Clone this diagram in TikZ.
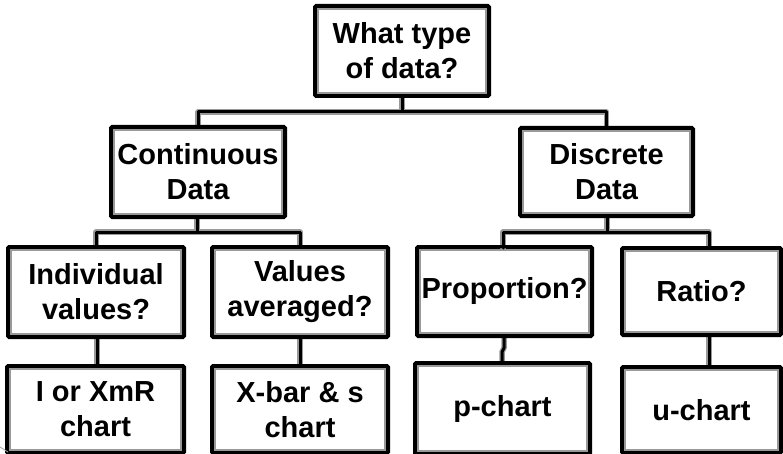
\documentclass[tikz,border=0pt]{standalone}
\usepackage{fontspec}
\setmainfont{Liberation Sans}
\begin{document}
\begin{tikzpicture}[x=1pt,y=-1pt,
  qbox/.style={draw=black, line width=3pt, rounded corners=1.5pt, fill=white,
    inner sep=0pt, align=center, font=\fontsize{29}{35}\selectfont\bfseries},
  inner/.style={draw=gray!80, line width=1.4pt},
  link/.style={draw=black, line width=3pt, line join=round},
  linkshade/.style={draw=gray!80, line width=5.5pt, line join=round}]
\useasboundingbox (0,0) rectangle (783,454);

% nodes
\node[qbox, minimum width=172pt, minimum height=88pt] (top) at (402,51) {What type\\of data?};
\node[qbox, minimum width=172pt, minimum height=88pt] (cont) at (198,172) {Continuous\\Data};
\node[qbox, minimum width=171pt, minimum height=86pt] (disc) at (606.5,172) {Discrete\\Data};
\node[qbox, minimum width=174pt, minimum height=88pt] (indiv) at (96,292) {Individual\\values?};
\node[qbox, minimum width=174pt, minimum height=88pt] (avg) at (300,292) {Values\\averaged?};
\node[qbox, minimum width=173pt, minimum height=87pt] (prop) at (504.5,291.5) {Proportion?};
\node[qbox, minimum width=157pt, minimum height=85pt] (ratio) at (701.5,291.5) {Ratio?};
\node[qbox, minimum width=175pt, minimum height=85pt] (ichart) at (95.5,409.5) {I or XmR\\chart};
\node[qbox, minimum width=174pt, minimum height=85pt] (xbar) at (300,409.5) {X-bar \& s\\chart};
\node[qbox, minimum width=173pt, minimum height=89pt] (pchart) at (502.5,408.5) {p-chart};
\node[qbox, minimum width=157pt, minimum height=84pt] (uchart) at (701.5,410) {u-chart};

% inner gray frames
\foreach \n in {top,cont,disc,indiv,avg,prop,ratio,ichart,xbar,pchart,uchart}{
  \draw[inner] ([shift={(3.6,3.6)}]\n.north west) rectangle ([shift={(-3.6,-3.6)}]\n.south east);
}

% connector junction coordinates
\coordinate (j0) at (402,112);
\coordinate (j1) at (197,232);
\coordinate (j2) at (607,232);

% connectors: shading then black
\foreach \s in {linkshade,link}{
  \draw[\s] (top.south) -- (j0);
  \draw[\s] (j0) -| (cont.north);
  \draw[\s] (j0) -| (disc.north);
  \draw[\s] (cont.south -| j1) -- (j1);
  \draw[\s] (j1) -| (indiv.north);
  \draw[\s] (j1) -| (avg.north);
  \draw[\s] (disc.south -| j2) -- (j2);
  \draw[\s] (j2) -| (503,248) -- (prop.north -| 503,248);
  \draw[\s] (j2) -| (709,249);
  \draw[\s] (indiv.south -| 97,0) -- (ichart.north -| 97,0);
  \draw[\s] (avg.south) -- (xbar.north);
  \draw[\s] (prop.south -| 504,0) -- (504,348) -- (502,352) -- (pchart.north -| 502,0);
  \draw[\s] (ratio.south -| 709,0) -- (uchart.north -| 709,0);
}

% redraw box borders over connector ends
\foreach \n in {top,cont,disc,indiv,avg,prop,ratio,ichart,xbar,pchart,uchart}{
  \draw[black, line width=3pt, rounded corners=1.5pt] (\n.north west) rectangle (\n.south east);
}

% stray mark at bottom left
\draw[gray!70, line width=0.8pt] (0,447) -- (8,452);
\end{tikzpicture}
\end{document}
